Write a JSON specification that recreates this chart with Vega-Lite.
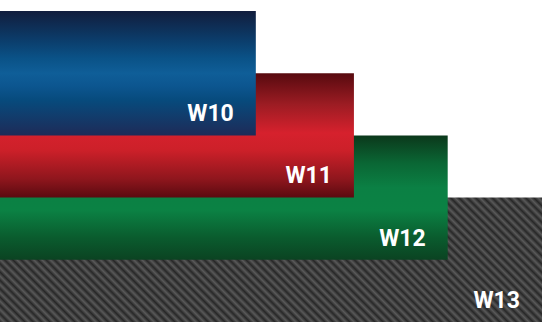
{
  "$schema": "https://vega.github.io/schema/vega-lite/v6.json",
  "width": 542,
  "height": 322,
  "autosize": {"type": "fit", "contains": "padding"},
  "padding": {"top": 11, "left": 0, "right": 0, "bottom": 0},
  "background": "white",
  "config": {"view": {"stroke": null}},
  "data": {"values": [
    {"name": "W10", "value": 47.2},
    {"name": "W11", "value": 65.3},
    {"name": "W12", "value": 82.6},
    {"name": "W13", "value": 100}
  ]},
  "encoding": {
    "y": {"field": "name", "type": "nominal", "axis": null, "scale": {"paddingInner": 0, "paddingOuter": 0.5}},
    "x": {"field": "value", "type": "quantitative", "axis": null, "scale": {"domain": [0, 100], "nice": false, "zero": true}}
  },
  "layer": [
    {
      "transform": [{"filter": "datum.name === 'W13'"}],
      "mark": {"type": "bar", "height": 124.4, "fill": {
        "gradient": "linear", "x1": 0, "y1": 1, "x2": 1.168, "y2": 0.732,
        "stops": [
{"offset":0,"color":"#272727"},{"offset":0.00625,"color":"#595959"},{"offset":0.0125,"color":"#272727"},{"offset":0.01875,"color":"#595959"},{"offset":0.025,"color":"#272727"},{"offset":0.03125,"color":"#595959"},{"offset":0.0375,"color":"#272727"},{"offset":0.04375,"color":"#595959"},{"offset":0.05,"color":"#272727"},{"offset":0.05625,"color":"#595959"},{"offset":0.0625,"color":"#272727"},{"offset":0.06875,"color":"#595959"},{"offset":0.075,"color":"#272727"},{"offset":0.08125,"color":"#595959"},{"offset":0.0875,"color":"#272727"},{"offset":0.09375,"color":"#595959"},
{"offset":0.1,"color":"#272727"},{"offset":0.10625,"color":"#595959"},{"offset":0.1125,"color":"#272727"},{"offset":0.11875,"color":"#595959"},{"offset":0.125,"color":"#272727"},{"offset":0.13125,"color":"#595959"},{"offset":0.1375,"color":"#272727"},{"offset":0.14375,"color":"#595959"},{"offset":0.15,"color":"#272727"},{"offset":0.15625,"color":"#595959"},{"offset":0.1625,"color":"#272727"},{"offset":0.16875,"color":"#595959"},{"offset":0.175,"color":"#272727"},{"offset":0.18125,"color":"#595959"},{"offset":0.1875,"color":"#272727"},{"offset":0.19375,"color":"#595959"},
{"offset":0.2,"color":"#272727"},{"offset":0.20625,"color":"#595959"},{"offset":0.2125,"color":"#272727"},{"offset":0.21875,"color":"#595959"},{"offset":0.225,"color":"#272727"},{"offset":0.23125,"color":"#595959"},{"offset":0.2375,"color":"#272727"},{"offset":0.24375,"color":"#595959"},{"offset":0.25,"color":"#272727"},{"offset":0.25625,"color":"#595959"},{"offset":0.2625,"color":"#272727"},{"offset":0.26875,"color":"#595959"},{"offset":0.275,"color":"#272727"},{"offset":0.28125,"color":"#595959"},{"offset":0.2875,"color":"#272727"},{"offset":0.29375,"color":"#595959"},
{"offset":0.3,"color":"#272727"},{"offset":0.30625,"color":"#595959"},{"offset":0.3125,"color":"#272727"},{"offset":0.31875,"color":"#595959"},{"offset":0.325,"color":"#272727"},{"offset":0.33125,"color":"#595959"},{"offset":0.3375,"color":"#272727"},{"offset":0.34375,"color":"#595959"},{"offset":0.35,"color":"#272727"},{"offset":0.35625,"color":"#595959"},{"offset":0.3625,"color":"#272727"},{"offset":0.36875,"color":"#595959"},{"offset":0.375,"color":"#272727"},{"offset":0.38125,"color":"#595959"},{"offset":0.3875,"color":"#272727"},{"offset":0.39375,"color":"#595959"},
{"offset":0.4,"color":"#272727"},{"offset":0.40625,"color":"#595959"},{"offset":0.4125,"color":"#272727"},{"offset":0.41875,"color":"#595959"},{"offset":0.425,"color":"#272727"},{"offset":0.43125,"color":"#595959"},{"offset":0.4375,"color":"#272727"},{"offset":0.44375,"color":"#595959"},{"offset":0.45,"color":"#272727"},{"offset":0.45625,"color":"#595959"},{"offset":0.4625,"color":"#272727"},{"offset":0.46875,"color":"#595959"},{"offset":0.475,"color":"#272727"},{"offset":0.48125,"color":"#595959"},{"offset":0.4875,"color":"#272727"},{"offset":0.49375,"color":"#595959"},
{"offset":0.5,"color":"#272727"},{"offset":0.50625,"color":"#595959"},{"offset":0.5125,"color":"#272727"},{"offset":0.51875,"color":"#595959"},{"offset":0.525,"color":"#272727"},{"offset":0.53125,"color":"#595959"},{"offset":0.5375,"color":"#272727"},{"offset":0.54375,"color":"#595959"},{"offset":0.55,"color":"#272727"},{"offset":0.55625,"color":"#595959"},{"offset":0.5625,"color":"#272727"},{"offset":0.56875,"color":"#595959"},{"offset":0.575,"color":"#272727"},{"offset":0.58125,"color":"#595959"},{"offset":0.5875,"color":"#272727"},{"offset":0.59375,"color":"#595959"},
{"offset":0.6,"color":"#272727"},{"offset":0.60625,"color":"#595959"},{"offset":0.6125,"color":"#272727"},{"offset":0.61875,"color":"#595959"},{"offset":0.625,"color":"#272727"},{"offset":0.63125,"color":"#595959"},{"offset":0.6375,"color":"#272727"},{"offset":0.64375,"color":"#595959"},{"offset":0.65,"color":"#272727"},{"offset":0.65625,"color":"#595959"},{"offset":0.6625,"color":"#272727"},{"offset":0.66875,"color":"#595959"},{"offset":0.675,"color":"#272727"},{"offset":0.68125,"color":"#595959"},{"offset":0.6875,"color":"#272727"},{"offset":0.69375,"color":"#595959"},
{"offset":0.7,"color":"#272727"},{"offset":0.70625,"color":"#595959"},{"offset":0.7125,"color":"#272727"},{"offset":0.71875,"color":"#595959"},{"offset":0.725,"color":"#272727"},{"offset":0.73125,"color":"#595959"},{"offset":0.7375,"color":"#272727"},{"offset":0.74375,"color":"#595959"},{"offset":0.75,"color":"#272727"},{"offset":0.75625,"color":"#595959"},{"offset":0.7625,"color":"#272727"},{"offset":0.76875,"color":"#595959"},{"offset":0.775,"color":"#272727"},{"offset":0.78125,"color":"#595959"},{"offset":0.7875,"color":"#272727"},{"offset":0.79375,"color":"#595959"},
{"offset":0.8,"color":"#272727"},{"offset":0.80625,"color":"#595959"},{"offset":0.8125,"color":"#272727"},{"offset":0.81875,"color":"#595959"},{"offset":0.825,"color":"#272727"},{"offset":0.83125,"color":"#595959"},{"offset":0.8375,"color":"#272727"},{"offset":0.84375,"color":"#595959"},{"offset":0.85,"color":"#272727"},{"offset":0.85625,"color":"#595959"},{"offset":0.8625,"color":"#272727"},{"offset":0.86875,"color":"#595959"},{"offset":0.875,"color":"#272727"},{"offset":0.88125,"color":"#595959"},{"offset":0.8875,"color":"#272727"},{"offset":0.89375,"color":"#595959"},
{"offset":0.9,"color":"#272727"},{"offset":0.90625,"color":"#595959"},{"offset":0.9125,"color":"#272727"},{"offset":0.91875,"color":"#595959"},{"offset":0.925,"color":"#272727"},{"offset":0.93125,"color":"#595959"},{"offset":0.9375,"color":"#272727"},{"offset":0.94375,"color":"#595959"},{"offset":0.95,"color":"#272727"},{"offset":0.95625,"color":"#595959"},{"offset":0.9625,"color":"#272727"},{"offset":0.96875,"color":"#595959"},{"offset":0.975,"color":"#272727"},{"offset":0.98125,"color":"#595959"},{"offset":0.9875,"color":"#272727"},{"offset":0.99375,"color":"#595959"},
{"offset":1,"color":"#272727"}
        ]
      }}
    },
    {
      "transform": [{"filter": "datum.name === 'W12'"}],
      "mark": {"type": "bar", "height": 124.4, "fill": {
        "gradient": "linear", "x1": 0, "y1": 0, "x2": 0, "y2": 1,
        "stops": [
          {"offset": 0, "color": "#0b381b"},
          {"offset": 0.22, "color": "#0a6634"},
          {"offset": 0.42, "color": "#0b8044"},
          {"offset": 0.6, "color": "#0b8244"},
          {"offset": 0.82, "color": "#0a5c2e"},
          {"offset": 1, "color": "#0b4322"}
        ]
      }}
    },
    {
      "transform": [{"filter": "datum.name === 'W11'"}],
      "mark": {"type": "bar", "height": 124.4, "fill": {
        "gradient": "linear", "x1": 0, "y1": 0, "x2": 0, "y2": 1,
        "stops": [
          {"offset": 0, "color": "#570a0f"},
          {"offset": 0.25, "color": "#9c1c23"},
          {"offset": 0.48, "color": "#d6212d"},
          {"offset": 0.62, "color": "#cc2029"},
          {"offset": 0.85, "color": "#8f161d"},
          {"offset": 1, "color": "#5a0a10"}
        ]
      }}
    },
    {
      "transform": [{"filter": "datum.name === 'W10'"}],
      "mark": {"type": "bar", "height": 124.4, "fill": {
        "gradient": "linear", "x1": 0, "y1": 0, "x2": 0, "y2": 1,
        "stops": [
          {"offset": 0, "color": "#111d3d"},
          {"offset": 0.25, "color": "#0b3f6e"},
          {"offset": 0.38, "color": "#0a5287"},
          {"offset": 0.5, "color": "#0f5e98"},
          {"offset": 0.6, "color": "#0c5690"},
          {"offset": 0.72, "color": "#074a7c"},
          {"offset": 1, "color": "#1e2b58"}
        ]
      }}
    },
    {
      "mark": {"type": "text", "align": "right", "baseline": "alphabetic", "dx": -22, "dy": 48, "font": "Roboto, sans-serif", "fontWeight": "bold", "fontSize": 23, "fill": "white"},
      "encoding": {"text": {"field": "name"}}
    }
  ]
}
